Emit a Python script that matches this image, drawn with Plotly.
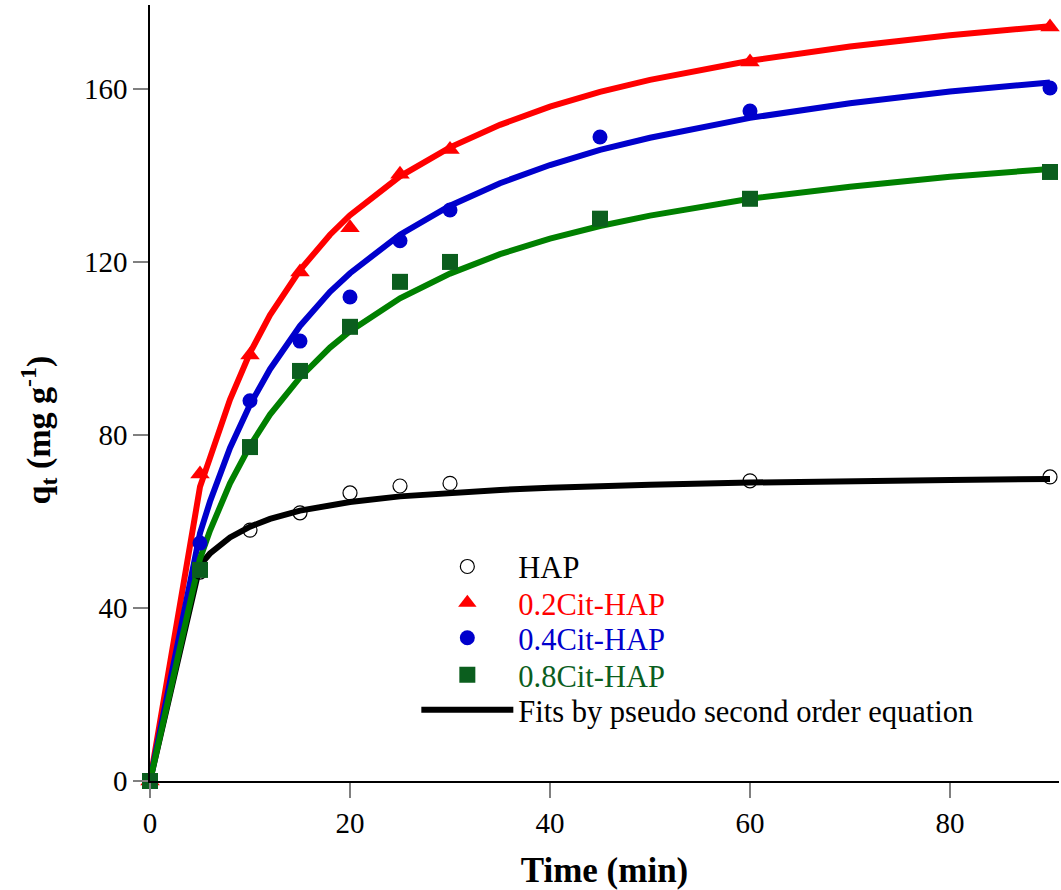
import plotly.graph_objects as go

# measured data
t_data = [0, 5, 10, 15, 20, 25, 30, 45, 60, 90]
t_hap = [0, 5, 10, 15, 20, 25, 30, 60, 90]
q_hap = [0, 48.3, 58.0, 62.0, 66.6, 68.2, 68.8, 69.4, 70.3]
t_02 = [0, 5, 10, 15, 20, 25, 30, 60, 90]
q_02 = [0, 71.0, 98.5, 117.7, 127.9, 140.3, 146.0, 166.2, 174.3]
q_04 = [0, 55.0, 87.9, 101.7, 111.9, 124.9, 132.0, 148.9, 154.9, 160.2]
q_08 = [0, 48.8, 77.2, 94.8, 105.0, 115.4, 120.0, 130.0, 134.6, 140.8]

# fitted curves (pseudo second order)
t_fit = [0, 5, 6, 7, 8, 10, 12, 15, 18, 20, 25, 30, 35, 40, 45, 50, 60, 70, 80, 90]
fit_hap = [0, 49.9, 52.6, 54.6, 56.3, 58.8, 60.6, 62.5, 63.9, 64.5, 65.8, 66.7, 67.3, 67.8,
           68.2, 68.5, 69.0, 69.4, 69.6, 69.8]
fit_02 = [0, 68.0, 74.7, 81.9, 88.2, 99.0, 107.7, 118.1, 126.3, 130.8, 139.8, 146.5, 151.7,
          155.9, 159.3, 162.1, 166.5, 169.8, 172.4, 174.5]
fit_04 = [0, 57.3, 64.6, 71.1, 77.0, 87.0, 95.2, 105.2, 113.1, 117.4, 126.3, 133.0, 138.2,
          142.4, 145.9, 148.7, 153.3, 156.7, 159.4, 161.5]
fit_08 = [0, 51.4, 57.9, 63.6, 68.8, 77.5, 84.7, 93.3, 100.2, 104.0, 111.6, 117.3, 121.8,
          125.4, 128.3, 130.7, 134.6, 137.4, 139.7, 141.5]

x_ticks = [0, 20, 40, 60, 80]
y_ticks = [0, 40, 80, 120, 160]

RED = "#FF0000"
BLUE = "#0000CC"
GREEN_LINE = "#008000"
GREEN_MK = "#0B5E1E"

fig = go.Figure()

for y, c in [(fit_hap, "black"), (fit_02, RED), (fit_04, BLUE), (fit_08, GREEN_LINE)]:
    fig.add_trace(go.Scatter(x=t_fit, y=y, mode="lines", line=dict(color=c, width=6),
                             showlegend=False, hoverinfo="skip"))

fig.add_trace(go.Scatter(x=t_hap, y=q_hap, mode="markers", name="HAP", legend="legend",
                         marker=dict(symbol="circle-open", size=14, color="black",
                                     line=dict(width=1.2, color="black")),
                         cliponaxis=False))
fig.add_trace(go.Scatter(x=t_02, y=q_02, mode="markers", legend="legend2",
                         name="<span style='color:#FF0000'>0.2Cit-HAP</span>",
                         marker=dict(symbol="triangle-up", size=17, color=RED),
                         cliponaxis=False))
fig.add_trace(go.Scatter(x=t_data, y=q_04, mode="markers", legend="legend3",
                         name="<span style='color:#0000CC'>0.4Cit-HAP</span>",
                         marker=dict(symbol="circle", size=15, color=BLUE),
                         cliponaxis=False))
fig.add_trace(go.Scatter(x=t_data, y=q_08, mode="markers", legend="legend4",
                         name="<span style='color:#0B5E1E'>0.8Cit-HAP</span>",
                         marker=dict(symbol="square", size=16, color=GREEN_MK),
                         cliponaxis=False))
fig.add_trace(go.Scatter(x=[None], y=[None], mode="lines", legend="legend5",
                         name="Fits by pseudo second order equation",
                         line=dict(color="black", width=6)))

def leg(y):
    return dict(x=0.293, y=y, xanchor="left", yanchor="middle",
                bgcolor="rgba(0,0,0,0)", itemwidth=92,
                font=dict(size=30.5, family="Liberation Serif"))

row_y = [0.2762, 0.2294, 0.1843, 0.1366, 0.0915]

fig.update_layout(
    width=1061, height=890,
    margin=dict(l=150, r=2, t=5, b=109),
    paper_bgcolor="white", plot_bgcolor="white",
    font=dict(family="Liberation Serif", size=29, color="black"),
    showlegend=True,
    legend=leg(row_y[0]), legend2=leg(row_y[1]), legend3=leg(row_y[2]),
    legend4=leg(row_y[3]), legend5=leg(row_y[4]),
    xaxis=dict(range=[0, 90.9], tickvals=x_ticks, ticks="outside", ticklen=15,
               tickwidth=2, tickcolor="#808080", showline=True, linecolor="black",
               linewidth=1.5, showgrid=False, zeroline=False,
               title=dict(text="<b>Time (min)</b>", font=dict(size=35), standoff=20)),
    yaxis=dict(range=[0, 179.4], tickvals=y_ticks, ticks="outside", ticklen=15,
               tickwidth=2, tickcolor="#808080", showline=True, linecolor="black",
               linewidth=1.5, showgrid=False, zeroline=False),
    annotations=[dict(text="<b>q<sub>t</sub> (mg g<sup>-1</sup>)</b>", textangle=-90,
                      xref="paper", yref="paper", x=-0.123, y=0.452,
                      xanchor="center", yanchor="middle", showarrow=False,
                      font=dict(size=34, family="Liberation Serif"))],
)

fig.write_html("out.html")
